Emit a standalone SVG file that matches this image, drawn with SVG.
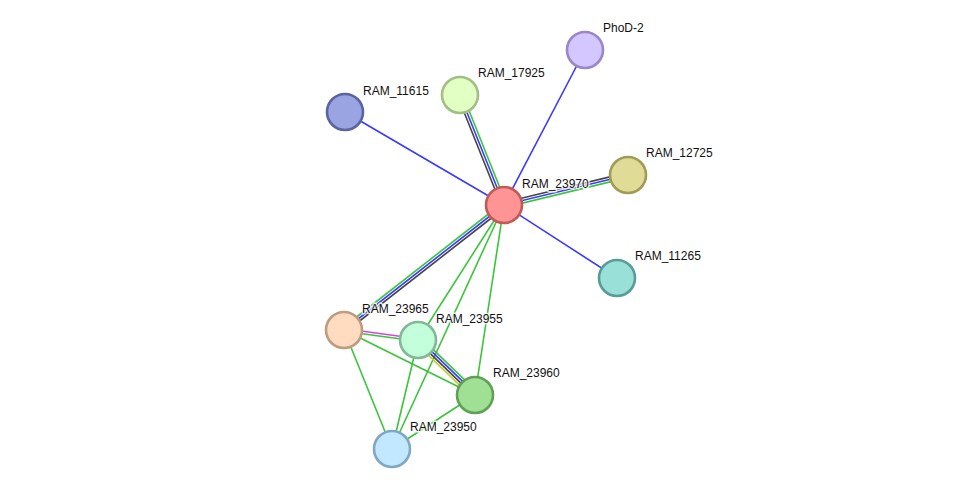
<svg xmlns="http://www.w3.org/2000/svg" width="976" height="494" viewBox="0 0 976 494">
<style>
.e{stroke-width:1.6;fill:none}
.b{stroke:#3a3aff}
.g{stroke:#3cc43c}
.k{stroke:#444444}
.m{stroke:#e040e0}
.y{stroke:#c8cc30}
.n{stroke-width:2.6}
text{font-family:"Liberation Sans",Arial,sans-serif;font-size:12px;fill:#111;stroke:#fff;stroke-width:3;stroke-opacity:0.8;paint-order:stroke;stroke-linejoin:round}
</style>
<rect width="976" height="494" fill="#fff"/>
<g id="connectors">
<line class="e b" x1="504" y1="205" x2="345" y2="112"/>
<line class="e b" x1="504" y1="205" x2="585" y2="50"/>
<line class="e b" x1="504" y1="205" x2="617" y2="278"/>
<line class="e k" x1="501.6" y1="206" x2="457.6" y2="96"/>
<line class="e b" x1="504" y1="205" x2="460" y2="95"/>
<line class="e g" x1="506.4" y1="204" x2="462.4" y2="94"/>
<line class="e k" x1="503.4" y1="202.6" x2="627.4" y2="172.6"/>
<line class="e b" x1="504" y1="205" x2="628" y2="175"/>
<line class="e g" x1="504.6" y1="207.4" x2="628.6" y2="177.4"/>
<line class="e g" x1="502.5" y1="203" x2="342.5" y2="328"/>
<line class="e b" x1="504" y1="205" x2="344" y2="330"/>
<line class="e k" x1="505.5" y1="207" x2="345.5" y2="332"/>
<line class="e g" x1="504" y1="205" x2="418" y2="340"/>
<line class="e g" x1="504" y1="205" x2="475" y2="395"/>
<line class="e g" x1="504" y1="205" x2="392" y2="449"/>
<line class="e m" x1="344.2" y1="328.8" x2="418.2" y2="338.8"/>
<line class="e g" x1="343.8" y1="331.2" x2="417.8" y2="341.2"/>
<line class="e g" x1="344" y1="330" x2="475" y2="395"/>
<line class="e g" x1="344" y1="330" x2="392" y2="449"/>
<line class="e g" x1="420.6" y1="337.3" x2="477.6" y2="392.3"/>
<line class="e b" x1="418.9" y1="339.1" x2="475.9" y2="394.1"/>
<line class="e k" x1="417.1" y1="340.9" x2="474.1" y2="395.9"/>
<line class="e y" x1="415.4" y1="342.7" x2="472.4" y2="397.7"/>
<line class="e g" x1="418" y1="340" x2="392" y2="449"/>
<line class="e g" x1="475" y1="395" x2="392" y2="449"/>
</g>
<g id="RAM_23970"><circle class="n" cx="504" cy="205" r="18" fill="#ff9494" stroke="#c05a5a"/><text x="522" y="188">RAM_23970</text></g>
<g id="RAM_17925"><circle class="n" cx="460" cy="95" r="18" fill="#e2ffc4" stroke="#a2be82"/><text x="478" y="77">RAM_17925</text></g>
<g id="PhoD-2"><circle class="n" cx="585" cy="50" r="18" fill="#d4c6ff" stroke="#9a86c8"/><text x="603" y="32">PhoD-2</text></g>
<g id="RAM_11615"><circle class="n" cx="345" cy="112" r="18" fill="#9aa4e2" stroke="#5a64a0"/><text x="363" y="95">RAM_11615</text></g>
<g id="RAM_12725"><circle class="n" cx="628" cy="175" r="18" fill="#e0dc98" stroke="#a09c56"/><text x="646" y="157">RAM_12725</text></g>
<g id="RAM_11265"><circle class="n" cx="617" cy="278" r="18" fill="#98e0d8" stroke="#589c98"/><text x="635" y="260">RAM_11265</text></g>
<g id="RAM_23965"><circle class="n" cx="344" cy="330" r="18" fill="#ffdcc0" stroke="#c09c7e"/><text x="362" y="313">RAM_23965</text></g>
<g id="RAM_23955"><circle class="n" cx="418" cy="340" r="18" fill="#c2ffda" stroke="#80b898"/><text x="436" y="323">RAM_23955</text></g>
<g id="RAM_23960"><circle class="n" cx="475" cy="395" r="18" fill="#a0e094" stroke="#5ea056"/><text x="493" y="377">RAM_23960</text></g>
<g id="RAM_23950"><circle class="n" cx="392" cy="449" r="18" fill="#c2e8ff" stroke="#80a8c2"/><text x="410" y="431">RAM_23950</text></g>
</svg>
